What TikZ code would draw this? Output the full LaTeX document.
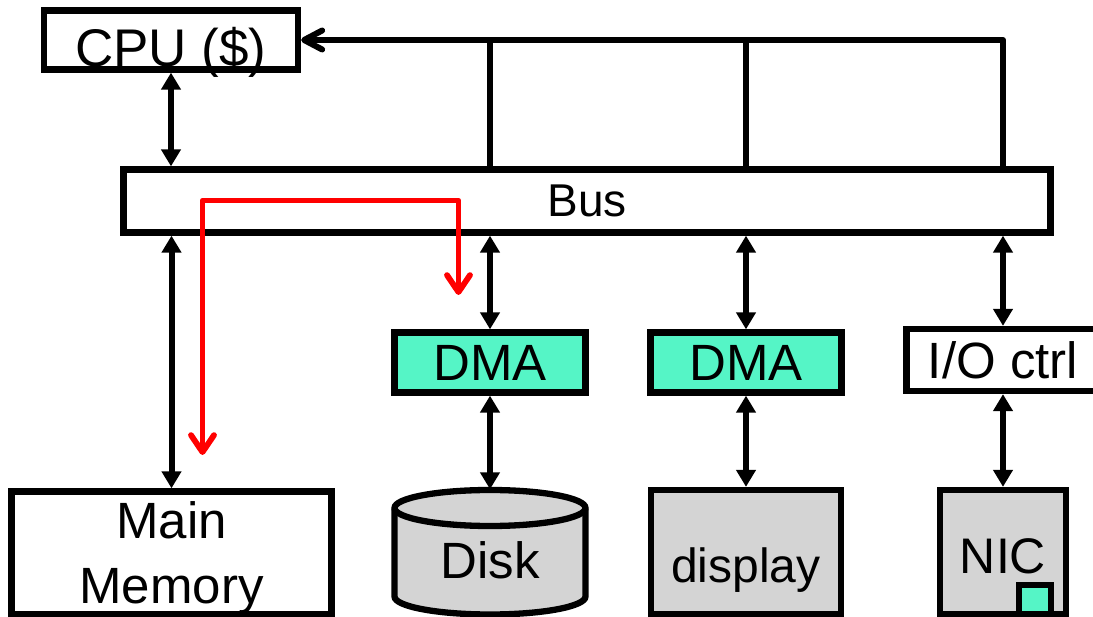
\documentclass[tikz,border=0pt]{standalone}
\usepackage{fontspec}
\setmainfont{Liberation Sans}
\usetikzlibrary{arrows.meta}
\definecolor{dmagreen}{HTML}{55F5C6}
\definecolor{devgray}{HTML}{D4D4D4}
\definecolor{xferred}{HTML}{FF0000}
\tikzset{
  box/.style={draw, line width=6.3pt, inner sep=0pt, fill=white,
    font=\fontsize{51}{65}\selectfont},
  devbox/.style={box, fill=devgray},
  dmabox/.style={box, fill=dmagreen, minimum width=191pt, minimum height=60pt},
  link/.style={line width=6pt,
    {Triangle[length=17pt,width=19pt]}-{Triangle[length=17pt,width=19pt]}},
  wire/.style={line width=6pt, line join=round},
  ret/.style={wire, -{Straight Barb[length=18pt,width=19pt,round]}},
  xfer/.style={draw=xferred, line width=5.8pt, line join=round,
    {Straight Barb[length=17pt,width=23pt,round]}-{Straight Barb[length=17pt,width=23pt,round]}}
}
\begin{document}
\begin{tikzpicture}[x=1pt, y=-1pt]
\useasboundingbox (0,0) rectangle (1093,617);
\clip (0,0) rectangle (1093,617);
\node[box, minimum width=254pt, minimum height=59pt, text height=53pt, text depth=0pt,
  font=\fontsize{53}{65}\selectfont] (cpu) at (171, 40) {CPU (\$)};
\node[box, minimum width=927pt, minimum height=63pt,
  font=\fontsize{46}{55}\selectfont] (bus) at (587, 201) {Bus};
\node[dmabox] (dma1) at (490, 362.5) {DMA}; % disk side
\node[dmabox] (dma2) at (746, 362.5) {DMA}; % display side
\node[box, minimum width=193pt, minimum height=62pt] (io) at (1003, 360) {I/O ctrl};
\node[box, minimum width=320pt, minimum height=123pt, align=center, text depth=0pt] (mem) at (171.5, 553) {Main\\Memory};
% disk cylinder
\draw[line width=6.3pt, fill=devgray] (394.5, 508) -- (394.5, 596.5)
  arc (180:360:95.5pt and 18pt) -- (585.5, 508) arc (0:180:95.5pt and 18pt) -- cycle;
\draw[line width=6.3pt] (394.5, 508) arc (180:360:95.5pt and 18pt);
\node[inner sep=0pt, minimum width=191pt, minimum height=125pt, text height=52pt, text depth=0pt,
  font=\fontsize{51}{65}\selectfont] (disk) at (490, 552) {Disk};
\node[devbox, minimum width=190pt, minimum height=124pt, text height=60pt, text depth=0pt,
  font=\fontsize{48}{60}\selectfont] (display) at (746, 552) {display};
\node[devbox, minimum width=126pt, minimum height=124pt, text height=42pt, text depth=0pt,
  font=\fontsize{50}{60}\selectfont] (nic) at (1003, 552) {NIC};
\node[box, fill=dmagreen, minimum width=32pt, minimum height=29pt] (port) at (1035, 599.5) {};
% links to the bus
\draw[link] (cpu.south) -- (cpu.south |- bus.north);
\draw[link] (mem.north |- bus.south) -- (mem.north);
\draw[link] (dma1.north |- bus.south) -- (dma1.north);
\draw[link] (dma2.north |- bus.south) -- (dma2.north);
\draw[link] (io.north |- bus.south) -- (io.north);
\draw[link] (dma1.south) -- (disk.north);
\draw[link] (dma2.south) -- (display.north);
\draw[link] (io.south) -- (nic.north);
% lines back to the cpu
\draw[ret] (io.north |- bus.north) |- (cpu.east);
\draw[wire] (dma1.north |- bus.north) -- (dma1.north |- cpu.east);
\draw[wire] (dma2.north |- bus.north) -- (dma2.north |- cpu.east);
% dma transfer
\coordinate (src) at (202.5, 455);
\coordinate (dst) at (458.5, 295);
\draw[xfer] (src) -- ++(0, -254.5) -| (dst);
\end{tikzpicture}
\end{document}
